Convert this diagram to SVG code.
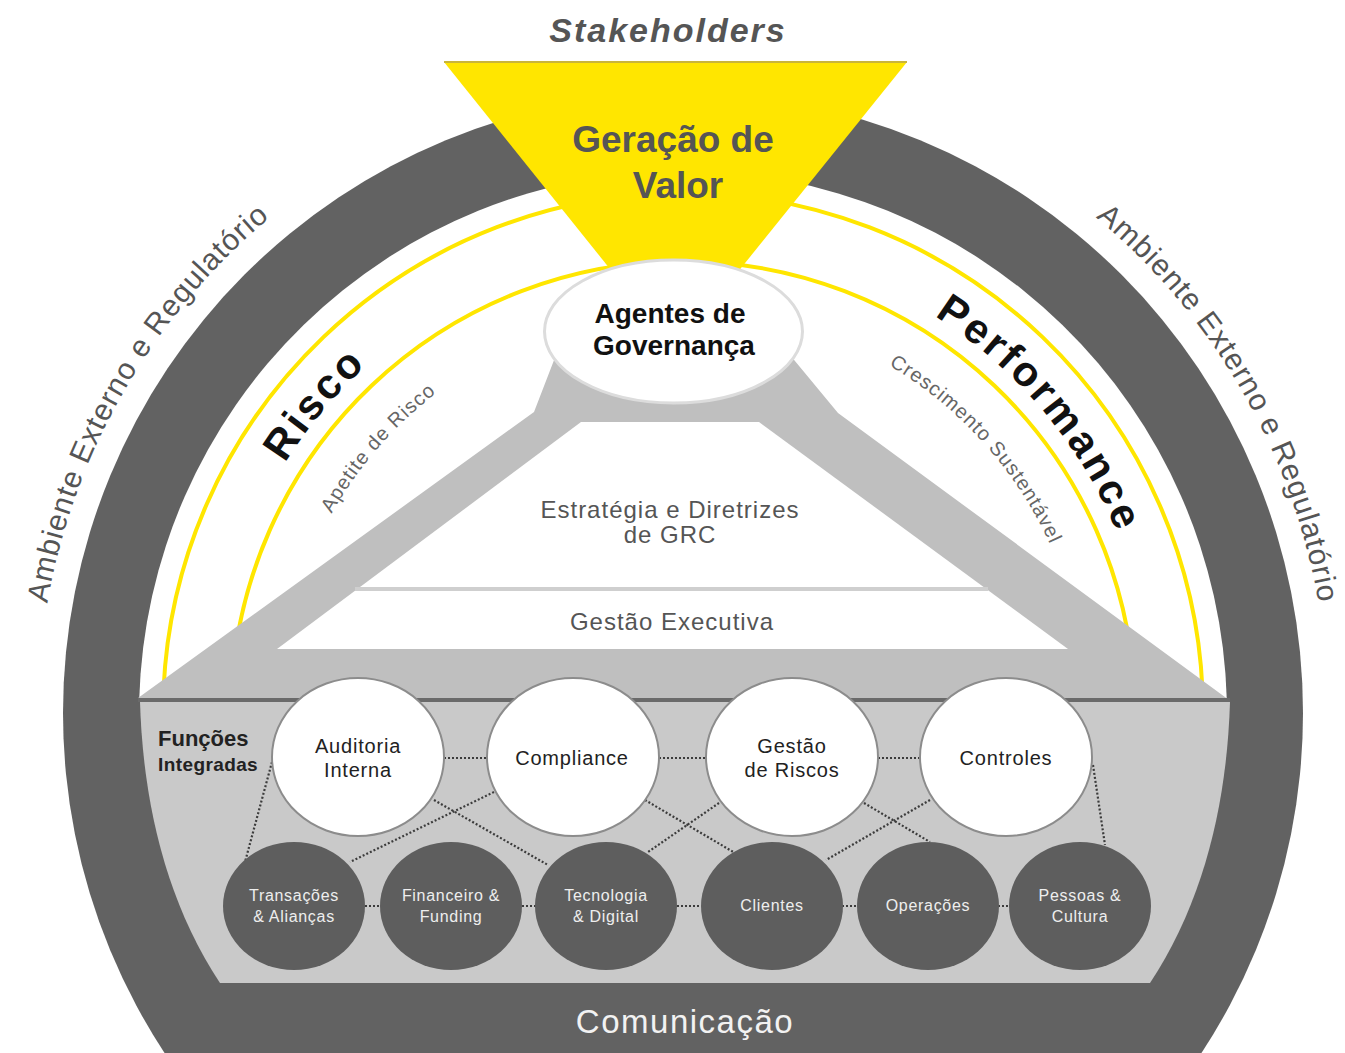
<svg xmlns="http://www.w3.org/2000/svg" width="1345" height="1053" viewBox="0 0 1345 1053">
<defs>
<style>
.t{font-family:"Liberation Sans",Arial,sans-serif}
.ringtxt{font-size:30px;fill:#555;letter-spacing:1px}
.big{font-size:42px;font-weight:bold;fill:#111;letter-spacing:3px}
.sub{font-size:20px;fill:#666;letter-spacing:1px}
.wc{fill:#fff;stroke:#8c8c8c;stroke-width:2}
.dc{fill:#5e5e5e}
.wl{font-size:20px;fill:#222;text-anchor:middle;letter-spacing:0.8px}
.dl{font-size:16px;fill:#eee;text-anchor:middle;letter-spacing:0.7px}
.conn{stroke:#3c3c3c;stroke-width:2.2;stroke-dasharray:2 2;fill:none}
.yl{fill:none;stroke:#FFE600;stroke-width:4}
.mid{font-size:24px;fill:#555;text-anchor:middle;letter-spacing:1px}
</style>
<path id="pLeftOut" d="M76.9,933.6 A645,645 0 0 1 571,77.8"/>
<path id="pRightOut" d="M795,77.8 A645,645 0 0 1 1289.1,933.6"/>
<path id="pRisco" d="M220.13,794.62 A470,470 0 0 1 683,243"/>
<path id="pPerf" d="M683,243 A470,470 0 0 1 1145.86,794.62"/>
<path id="pApet" d="M283.97,776.2 A404,404 0 0 1 690.05,309.06"/>
<path id="pCresc" d="M668.9,309.25 A404,404 0 0 1 1083.07,769.23"/>
</defs>
<rect width="1345" height="1053" fill="#fff"/>

<g id="frame">
<circle cx="683" cy="713" r="620" fill="#626262"/>
<path d="M139.2,700 A544,544 0 0 1 1226.8,700 Z" fill="#fff"/>
<path class="yl" d="M163.5,690 A520,520 0 0 1 1202.5,690"/>
<path class="yl" d="M231.6,690 A452,452 0 0 1 1134.4,690"/>
</g>

<g id="pyramid">
<polygon points="138,698 534,412 556,355 790,355 838,413 1229,700" fill="#bfbfbf"/>
</g>

<g id="estrategia">
<polygon points="581,422 759,422 1068,649 277,649" fill="#fff"/>
<line x1="355" y1="589" x2="988" y2="589" stroke="#cfcfcf" stroke-width="4"/>
<text class="t mid" x="670" y="518">Estratégia e Diretrizes</text>
<text class="t mid" x="670" y="543">de GRC</text>
</g>
<g id="gestao-executiva">
<text class="t mid" x="672" y="630">Gestão Executiva</text>
</g>

<g id="geracao-valor">
<polygon points="444,62 907,62 675,350" fill="#FFE600"/>
<line x1="444" y1="62" x2="907" y2="62" stroke="#c9b53a" stroke-width="2"/>
<text class="t" x="673" y="152" font-size="37" font-weight="bold" fill="#555" text-anchor="middle">Geração de</text>
<text class="t" x="678" y="198" font-size="37" font-weight="bold" fill="#555" text-anchor="middle">Valor</text>
</g>

<g id="stakeholders">
<text class="t" x="668" y="42" font-size="34" font-weight="bold" font-style="italic" fill="#555" text-anchor="middle" letter-spacing="2">Stakeholders</text>
</g>

<g id="agentes">
<ellipse cx="673.5" cy="331.5" rx="129" ry="71.5" fill="#fff" stroke="#dcdcdc" stroke-width="3"/>
<text class="t" x="670" y="323" font-size="28" font-weight="bold" fill="#111" text-anchor="middle">Agentes de</text>
<text class="t" x="674" y="355" font-size="28" font-weight="bold" fill="#111" text-anchor="middle">Governança</text>
</g>

<g id="ambiente-esq">
<text class="t ringtxt"><textPath href="#pLeftOut" startOffset="50%" text-anchor="middle">Ambiente Externo e Regulatório</textPath></text>
</g>
<g id="ambiente-dir">
<text class="t ringtxt"><textPath href="#pRightOut" startOffset="50%" text-anchor="middle">Ambiente Externo e Regulatório</textPath></text>
</g>
<g id="risco">
<text class="t big"><textPath href="#pRisco" startOffset="50%" text-anchor="middle">Risco</textPath></text>
<text class="t sub"><textPath href="#pApet" startOffset="50%" text-anchor="middle">Apetite de Risco</textPath></text>
</g>
<g id="performance">
<text class="t big"><textPath href="#pPerf" startOffset="50%" text-anchor="middle">Performance</textPath></text>
<text class="t sub"><textPath href="#pCresc" startOffset="50%" text-anchor="middle">Crescimento Sustentável</textPath></text>
</g>

<g id="funcoes-area">
<path d="M140,702 L1230,702 C1227,800 1205,900 1150,983 L220,983 C165,900 143,800 140,702 Z" fill="#c9c9c9"/>
<line x1="138" y1="700" x2="1230" y2="700" stroke="#6a6a6a" stroke-width="4"/>
<text class="t" x="158" y="746" font-size="22" font-weight="bold" fill="#222">Funções</text>
<text class="t" x="158" y="771" font-size="19" font-weight="bold" fill="#222" letter-spacing="0.4">Integradas</text>
</g>

<g id="connectors">
<line class="conn" x1="444" y1="758" x2="487" y2="758"/>
<line class="conn" x1="659" y1="758" x2="706" y2="758"/>
<line class="conn" x1="878" y1="758" x2="920" y2="758"/>
<line class="conn" x1="365" y1="906" x2="381" y2="906"/>
<line class="conn" x1="522" y1="906" x2="536" y2="906"/>
<line class="conn" x1="677" y1="906" x2="701" y2="906"/>
<line class="conn" x1="842" y1="906" x2="857" y2="906"/>
<line class="conn" x1="998" y1="906" x2="1010" y2="906"/>
<line class="conn" x1="272" y1="762" x2="245" y2="862"/>
<line class="conn" x1="434" y1="800" x2="548" y2="865"/>
<line class="conn" x1="494" y1="792" x2="350" y2="862"/>
<line class="conn" x1="645" y1="800" x2="735" y2="853"/>
<line class="conn" x1="719" y1="803" x2="648" y2="852"/>
<line class="conn" x1="864" y1="803" x2="930" y2="842"/>
<line class="conn" x1="930" y1="800" x2="826" y2="860"/>
<line class="conn" x1="1093" y1="765" x2="1105" y2="845"/>
</g>

<g id="auditoria">
<ellipse class="wc" cx="358" cy="757" rx="86" ry="79"/>
<text class="t wl" x="358" y="753">Auditoria</text>
<text class="t wl" x="358" y="777">Interna</text>
</g>
<g id="compliance">
<ellipse class="wc" cx="573" cy="757" rx="86" ry="79"/>
<text class="t wl" x="572" y="765">Compliance</text>
</g>
<g id="gestao-riscos">
<ellipse class="wc" cx="792" cy="757" rx="86" ry="79"/>
<text class="t wl" x="792" y="753">Gestão</text>
<text class="t wl" x="792" y="777">de Riscos</text>
</g>
<g id="controles">
<ellipse class="wc" cx="1006" cy="757" rx="86" ry="79"/>
<text class="t wl" x="1006" y="765">Controles</text>
</g>

<g id="transacoes">
<ellipse class="dc" cx="294" cy="906" rx="71" ry="64"/>
<text class="t dl" x="294" y="901">Transações</text>
<text class="t dl" x="294" y="922">&amp; Alianças</text>
</g>
<g id="financeiro">
<ellipse class="dc" cx="451" cy="906" rx="71" ry="64"/>
<text class="t dl" x="451" y="901">Financeiro &amp;</text>
<text class="t dl" x="451" y="922">Funding</text>
</g>
<g id="tecnologia">
<ellipse class="dc" cx="606" cy="906" rx="71" ry="64"/>
<text class="t dl" x="606" y="901">Tecnologia</text>
<text class="t dl" x="606" y="922">&amp; Digital</text>
</g>
<g id="clientes">
<ellipse class="dc" cx="772" cy="906" rx="71" ry="64"/>
<text class="t dl" x="772" y="911">Clientes</text>
</g>
<g id="operacoes">
<ellipse class="dc" cx="928" cy="906" rx="71" ry="64"/>
<text class="t dl" x="928" y="911">Operações</text>
</g>
<g id="pessoas">
<ellipse class="dc" cx="1080" cy="906" rx="71" ry="64"/>
<text class="t dl" x="1080" y="901">Pessoas &amp;</text>
<text class="t dl" x="1080" y="922">Cultura</text>
</g>

<g id="comunicacao">
<text class="t" x="685" y="1033" font-size="33" fill="#f2f2f2" text-anchor="middle" letter-spacing="1.5">Comunicação</text>
</g>
</svg>
